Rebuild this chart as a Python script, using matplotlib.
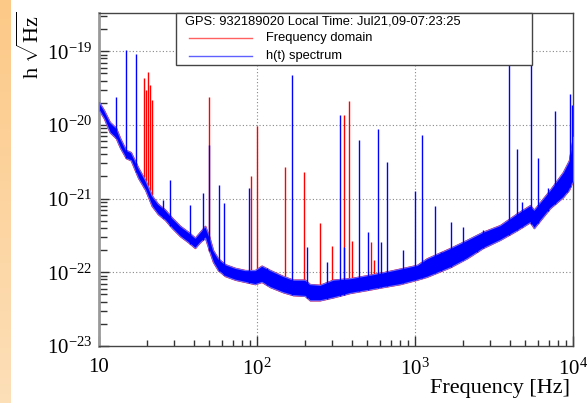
import numpy as np
import matplotlib
matplotlib.use('Agg')
import matplotlib.pyplot as plt
from matplotlib.patches import Rectangle
from matplotlib.lines import Line2D
from matplotlib.colors import LinearSegmentedColormap
from matplotlib.ticker import FixedLocator, FixedFormatter, NullFormatter

plt.rcParams['font.family'] = ['Liberation Serif', 'DejaVu Serif']
plt.rcParams['mathtext.fontset'] = 'custom'
plt.rcParams['mathtext.rm'] = 'Liberation Serif'
plt.rcParams['mathtext.it'] = 'Liberation Serif:italic'
plt.rcParams['mathtext.bf'] = 'Liberation Serif:bold'

# ---- data (frequency in Hz, amplitude as log10 exponent) ----
band_freq = [10, 10.75, 11.7, 12.8, 13.6, 14.8, 15.9, 17.7, 19.6, 21.6, 23.6, 26.2, 29.0,
             32.6, 36.6, 40.5, 43.6, 46.9, 49.7, 52.7, 56.6, 62.7, 72.6, 84, 97, 107, 121,
             146, 169, 201, 216, 250, 303, 388, 497, 627, 804, 1030, 1190, 1670, 2130,
             2690, 3450, 4420, 5340, 5660, 7150, 8640, 9430, 10000]
band_upper_exp = [-19.69, -19.80, -19.96, -20.04, -20.18, -20.34, -20.37, -20.58, -20.75,
                  -20.96, -21.07, -21.15, -21.26, -21.37, -21.45, -21.53, -21.45, -21.37,
                  -21.51, -21.70, -21.81, -21.89, -21.94, -21.97, -21.97, -21.91, -21.97,
                  -22.05, -22.10, -22.10, -22.16, -22.17, -22.10, -22.08, -22.04, -22.00,
                  -21.95, -21.90, -21.81, -21.67, -21.56, -21.45, -21.36, -21.20, -21.09,
                  -21.15, -20.88, -20.64, -20.48, -20.16]
band_lower_exp = [-19.80, -19.91, -20.10, -20.18, -20.31, -20.45, -20.48, -20.72, -20.88,
                  -21.10, -21.21, -21.29, -21.40, -21.51, -21.59, -21.67, -21.59, -21.53,
                  -21.70, -21.86, -21.97, -22.05, -22.10, -22.13, -22.16, -22.13, -22.20,
                  -22.27, -22.31, -22.32, -22.38, -22.38, -22.34, -22.28, -22.24, -22.20,
                  -22.16, -22.10, -22.06, -21.93, -21.81, -21.67, -21.56, -21.43, -21.32,
                  -21.40, -21.13, -20.98, -20.88, -20.75]

blue_spike_freq = [12.8, 14.8, 17.1, 25.4, 28.1, 37.7, 45.5, 50.0, 57.5, 61.8, 88.9, 115,
                   166.5, 207, 277, 335, 354, 442, 504, 583, 609, 665, 840, 1000, 1107,
                   1338, 1461, 1690, 2013, 2469, 2694, 3936, 4422, 4753, 5420, 6004, 6947,
                   7691, 9162, 9573, 9860]
blue_spike_exp = [-19.62, -18.98, -19.04, -21.02, -20.75, -21.09, -20.92, -20.27, -20.82,
                  -21.06, -20.86, -21.94, -19.32, -21.66, -21.86, -19.87, -21.66, -20.20,
                  -21.45, -20.06, -21.59, -20.50, -21.70, -20.90, -20.14, -21.10, -21.72,
                  -21.32, -21.39, -21.53, -21.43, -18.85, -20.33, -21.05, -18.30, -20.45,
                  -20.86, -19.81, -20.65, -19.58, -19.73]

red_spike_freq = [19.3, 19.8, 20.4, 21.0, 21.6, 49.9, 91.6, 100, 150, 198, 250, 298, 355,
                  382, 399, 527, 550]
red_spike_exp = [-19.36, -19.53, -19.28, -19.46, -19.66, -19.62, -20.69, -20.02, -20.57,
                 -20.64, -21.33, -21.64, -19.87, -19.68, -21.58, -21.59, -21.83]

x_tick_vals = [10, 100, 1000, 10000]
x_tick_labels = ['10', r'$10^{2}$', r'$10^{3}$', r'$10^{4}$']
y_tick_vals = [1e-23, 1e-22, 1e-21, 1e-20, 1e-19]
y_tick_labels = [r'$10^{-23}$', r'$10^{-22}$', r'$10^{-21}$', r'$10^{-20}$', r'$10^{-19}$']

legend_header = 'GPS: 932189020 Local Time: Jul21,09-07:23:25'
legend_labels = ['Frequency domain', 'h(t) spectrum']

W, H = 588, 403
fig = plt.figure(figsize=(W / 100, H / 100), dpi=100)
fig.patch.set_facecolor('white')

# orange strip on the left
strip = fig.add_axes([0, 0, 10 / W, 1])
grad = np.linspace(0, 1, 256).reshape(-1, 1)
cmap = LinearSegmentedColormap.from_list('strip', ['#FCC987', '#FDDFB8'])
strip.imshow(grad, aspect='auto', cmap=cmap, extent=[0, 1, 0, 1], origin='upper')
strip.axis('off')

ax_l, ax_r, ax_t, ax_b = 99, 573, 13, 346
ax = fig.add_axes([ax_l / W, 1 - ax_b / H, (ax_r - ax_l) / W, (ax_b - ax_t) / H])
ax.set_xscale('log')
ax.set_yscale('log')
ax.set_xlim(10, 10000)
ax.set_ylim(1e-23, 3.3e-19)

bf = np.array(band_freq, dtype=float)
bu = 10.0 ** np.array(band_upper_exp)
bl = 10.0 ** np.array(band_lower_exp)

# red (frequency domain) drawn first, mostly hidden by blue
ax.fill_between(bf, bl, bu, color='red', edgecolor='red', linewidth=1.0, zorder=2)
rf = np.array(red_spike_freq)
r_base = 10.0 ** np.interp(np.log10(rf), np.log10(bf), band_lower_exp)
ax.vlines(rf, r_base, 10.0 ** np.array(red_spike_exp), color='red', linewidth=1.0, zorder=2.1)

# blue (h(t) spectrum)
ax.fill_between(bf, bl, bu, color='blue', edgecolor='#6a6aff', linewidth=0.8, zorder=3)
bsf = np.array(blue_spike_freq)
b_base = 10.0 ** np.interp(np.log10(bsf), np.log10(bf), band_lower_exp)
ax.vlines(bsf, b_base, 10.0 ** np.array(blue_spike_exp), color='blue', linewidth=1.0, zorder=3.1)

# grid
for xv in [100, 1000]:
    ax.axvline(xv, color='#888888', linewidth=0.8, linestyle=(0, (1, 2)), zorder=1.5)
for yv in [1e-22, 1e-21, 1e-20, 1e-19]:
    ax.axhline(yv, color='#888888', linewidth=0.8, linestyle=(0, (1, 2)), zorder=1.5)

# ticks
ax.xaxis.set_major_locator(FixedLocator(x_tick_vals))
ax.xaxis.set_major_formatter(FixedFormatter(x_tick_labels))
xminor = [m * 10 ** d for d in range(1, 4) for m in range(2, 10)]
ax.xaxis.set_minor_locator(FixedLocator(xminor))
ax.xaxis.set_minor_formatter(NullFormatter())
ax.yaxis.set_major_locator(FixedLocator(y_tick_vals))
ax.yaxis.set_major_formatter(FixedFormatter(y_tick_labels))
yminor = [m * 10.0 ** d for d in range(-23, -18) for m in range(2, 10)]
ax.yaxis.set_minor_locator(FixedLocator(yminor))
ax.yaxis.set_minor_formatter(NullFormatter())

ax.tick_params(axis='both', which='both', direction='in', top=False, right=False,
               colors='#333333', labelcolor='black', labelsize=15)
ax.tick_params(axis='x', which='major', length=7, width=1, pad=9)
ax.tick_params(axis='x', which='minor', length=4, width=1)
ax.tick_params(axis='y', which='major', length=7, width=1, pad=5)
ax.tick_params(axis='y', which='minor', length=6, width=1)

for s in ['top', 'right', 'bottom']:
    ax.spines[s].set_color('#444444')
    ax.spines[s].set_linewidth(1.0)
ax.spines['left'].set_color('#999999')
ax.spines['left'].set_linewidth(2.0)

# axis titles
fig.text(570 / W, 1 - 389 / H, 'Frequency [Hz]', ha='right', va='center', fontsize=16)
fig.text(31 / W, 1 - 12 / H, r'h $\sqrt{\mathrm{Hz}}$', ha='center', va='top',
         rotation=90, fontsize=16)

# legend box
lx0, lx1, ly0, ly1 = 176, 532, 13, 65
fig.add_artist(Rectangle((lx0 / W, 1 - ly1 / H), (lx1 - lx0) / W, (ly1 - ly0) / H,
                         transform=fig.transFigure, facecolor='white', edgecolor='#444444',
                         linewidth=1.0, zorder=10))
sans = ['Liberation Sans', 'DejaVu Sans']
fig.text(185 / W, 1 - 22 / H, legend_header, ha='left', va='center', fontsize=9.3,
         family=sans, zorder=11)
for lab, col, yy in zip(legend_labels, ['#ff6060', '#6060ff'], [38, 56]):
    fig.add_artist(Line2D([189 / W, 252 / W], [1 - yy / H, 1 - yy / H], transform=fig.transFigure,
                          color=col, linewidth=1.0, zorder=11))
    fig.text(266 / W, 1 - yy / H, lab, ha='left', va='center', fontsize=9.3,
             family=sans, zorder=11)

fig.savefig('out.png', dpi=100)
